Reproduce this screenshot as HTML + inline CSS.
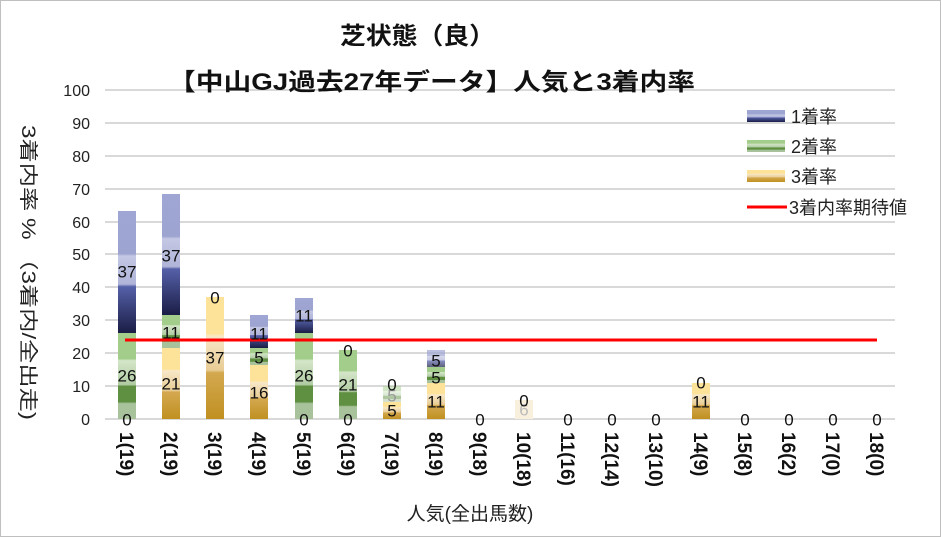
<!DOCTYPE html><html><head><meta charset="utf-8"><style>body{margin:0}svg{display:block}text{font-family:"Liberation Sans","Noto Sans CJK JP",sans-serif}</style></head><body>
<svg width="941" height="537" xmlns="http://www.w3.org/2000/svg">
<defs>
<linearGradient id="b" x1="0" y1="0" x2="0" y2="1"><stop offset="0" stop-color="#a0a6d4"/><stop offset=".35" stop-color="#9ea4d0"/><stop offset=".37" stop-color="#c4c8e4"/><stop offset=".6" stop-color="#b0b4d8"/><stop offset=".62" stop-color="#5560a8"/><stop offset="1" stop-color="#1a1d45"/></linearGradient>
<linearGradient id="g" x1="0" y1="0" x2="0" y2="1"><stop offset="0" stop-color="#a3cd8a"/><stop offset=".3" stop-color="#a3cd8a"/><stop offset=".32" stop-color="#d4e6c8"/><stop offset=".6" stop-color="#b0cca4"/><stop offset=".62" stop-color="#5f8f40"/><stop offset=".8" stop-color="#5f8f40"/><stop offset=".82" stop-color="#a8c29c"/><stop offset="1" stop-color="#a8c29c"/></linearGradient>
<linearGradient id="y" x1="0" y1="0" x2="0" y2="1"><stop offset="0" stop-color="#fde39a"/><stop offset=".3" stop-color="#fde39a"/><stop offset=".32" stop-color="#f8e8c8"/><stop offset=".6" stop-color="#e8cc94"/><stop offset=".62" stop-color="#d4a850"/><stop offset="1" stop-color="#c09020"/></linearGradient>
</defs>
<rect x="0.5" y="0.5" width="940" height="536" fill="#fff" stroke="#bfbfbf"/>
<g stroke="#d9d9d9" stroke-width="2">
<line x1="105" x2="895" y1="90" y2="90"/><line x1="105" x2="895" y1="123" y2="123"/><line x1="105" x2="895" y1="156" y2="156"/><line x1="105" x2="895" y1="189" y2="189"/><line x1="105" x2="895" y1="222" y2="222"/><line x1="105" x2="895" y1="254" y2="254"/><line x1="105" x2="895" y1="287" y2="287"/><line x1="105" x2="895" y1="320" y2="320"/><line x1="105" x2="895" y1="353" y2="353"/><line x1="105" x2="895" y1="386" y2="386"/><line x1="105" x2="895" y1="419" y2="419"/>
</g>
<g font-size="16" fill="#222" text-anchor="end">
<text x="90" y="96">100</text><text x="90" y="129">90</text><text x="90" y="162">80</text><text x="90" y="195">70</text><text x="90" y="228">60</text><text x="90" y="260">50</text><text x="90" y="293">40</text><text x="90" y="326">30</text><text x="90" y="359">20</text><text x="90" y="392">10</text><text x="90" y="425">0</text>
</g>
<g>
<rect x="118" y="333" width="18" height="86" fill="url(#g)"/><rect x="118" y="211" width="18" height="122" fill="url(#b)"/>
<rect x="162" y="348" width="18" height="71" fill="url(#y)"/><rect x="162" y="315" width="18" height="33" fill="url(#g)"/><rect x="162" y="194" width="18" height="121" fill="url(#b)"/>
<rect x="206" y="297" width="18" height="122" fill="url(#y)"/>
<rect x="250" y="365" width="18" height="54" fill="url(#y)"/><rect x="250" y="348" width="18" height="17" fill="url(#g)"/><rect x="250" y="315" width="18" height="33" fill="url(#b)"/>
<rect x="295" y="333" width="18" height="86" fill="url(#g)"/><rect x="295" y="298" width="18" height="35" fill="url(#b)"/>
<rect x="339" y="350" width="18" height="69" fill="url(#g)"/>
<rect x="383" y="402" width="18" height="17" fill="url(#y)"/><rect x="383" y="386" width="18" height="16" fill="url(#g)" opacity=".5"/>
<rect x="427" y="383" width="18" height="36" fill="url(#y)"/><rect x="427" y="367" width="18" height="16" fill="url(#g)"/><rect x="427" y="350" width="18" height="17" fill="url(#b)" opacity=".7"/>
<rect x="515" y="400" width="18" height="19" fill="#f8efdc"/>
<rect x="692" y="383" width="18" height="36" fill="url(#y)"/>
</g>
<line x1="125" x2="877" y1="340" y2="340" stroke="#ff0000" stroke-width="3"/>
<g font-size="17" fill="#111" text-anchor="middle" dominant-baseline="central">
<text x="127" y="420">0</text><text x="127" y="376">26</text><text x="127" y="272">37</text>
<text x="171" y="384">21</text><text x="171" y="333">11</text><text x="171" y="256">37</text>
<text x="215" y="358">37</text><text x="215" y="298">0</text>
<text x="259" y="393">16</text><text x="259" y="358">5</text><text x="259" y="334">11</text>
<text x="304" y="420">0</text><text x="304" y="376">26</text><text x="304" y="316">11</text>
<text x="348" y="420">0</text><text x="348" y="385">21</text><text x="348" y="351">0</text>
<text x="392" y="411">5</text><text x="392" y="396" fill="#999">5</text><text x="392" y="385">0</text>
<text x="436" y="402">11</text><text x="436" y="378">5</text><text x="436" y="361">5</text>
<text x="480" y="420">0</text>
<text x="524" y="410" fill="#bbb">6</text><text x="524" y="401">0</text>
<text x="568" y="420">0</text><text x="612" y="420">0</text><text x="656" y="420">0</text>
<text x="701" y="402">11</text><text x="701" y="383">0</text>
<text x="745" y="420">0</text><text x="789" y="420">0</text><text x="833" y="420">0</text><text x="877" y="420">0</text>
</g>
<g font-size="19" font-weight="bold" fill="#111">
<text transform="translate(120,432) rotate(90)">1(19)</text>
<text transform="translate(164,432) rotate(90)">2(19)</text>
<text transform="translate(208,432) rotate(90)">3(19)</text>
<text transform="translate(252,432) rotate(90)">4(19)</text>
<text transform="translate(297,432) rotate(90)">5(19)</text>
<text transform="translate(341,432) rotate(90)">6(19)</text>
<text transform="translate(385,432) rotate(90)">7(19)</text>
<text transform="translate(429,432) rotate(90)">8(19)</text>
<text transform="translate(473,432) rotate(90)">9(18)</text>
<text transform="translate(517,432) rotate(90)">10(18)</text>
<text transform="translate(561,432) rotate(90)">11(16)</text>
<text transform="translate(605,432) rotate(90)">12(14)</text>
<text transform="translate(649,432) rotate(90)">13(10)</text>
<text transform="translate(694,432) rotate(90)">14(9)</text>
<text transform="translate(738,432) rotate(90)">15(8)</text>
<text transform="translate(782,432) rotate(90)">16(2)</text>
<text transform="translate(826,432) rotate(90)">17(0)</text>
<text transform="translate(870,432) rotate(90)">18(0)</text>
</g>
<g font-weight="bold" font-size="24" fill="#111">
<text x="340" y="44" textLength="155" lengthAdjust="spacingAndGlyphs">芝状態（良）</text>
<text x="168" y="90" textLength="527" lengthAdjust="spacingAndGlyphs">【中山GJ過去27年データ】人気と3着内率</text>
</g>
<text x="470" y="520" font-size="19" fill="#222" text-anchor="middle">人気(全出馬数)</text>
<text transform="translate(22,125) rotate(90)" font-size="19" fill="#222" textLength="295" lengthAdjust="spacingAndGlyphs">3着内率 % （3着内/全出走)</text>
<rect x="747" y="110" width="38" height="12" fill="url(#b)"/>
<rect x="747" y="140" width="38" height="12" fill="url(#g)"/>
<rect x="747" y="170" width="38" height="12" fill="url(#y)"/>
<line x1="747" x2="787" y1="207" y2="207" stroke="#ff0000" stroke-width="3"/>
<g font-size="18" fill="#222">
<text x="791" y="123">1着率</text><text x="791" y="153">2着率</text><text x="791" y="183">3着率</text><text x="789" y="214">3着内率期待値</text>
</g>
</svg>
</body></html>
